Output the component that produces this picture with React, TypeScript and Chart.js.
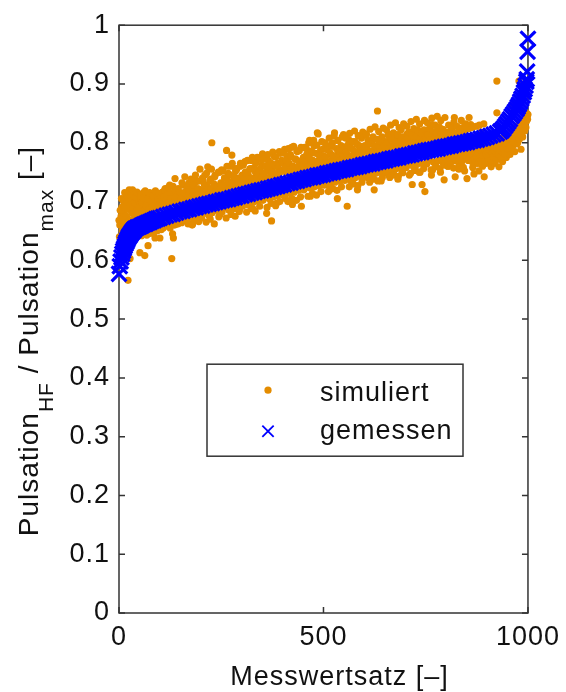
import React, { useEffect, useRef } from 'react';
import { Chart, registerables } from 'chart.js';

Chart.register(...registerables);

// ---- axis ranges / labels ----
const X_MIN = 0;
const X_MAX = 1000;
const X_STEP = 500;
const Y_MIN = 0;
const Y_MAX = 1;
const Y_STEP = 0.1;

const seriesLabels = ['simuliert', 'gemessen'];
const xAxisTitle = 'Messwertsatz [–]';
// [text, isSubscript]
const yAxisTitleParts: [string, boolean][] = [
  ['Pulsation', false],
  ['HF', true],
  [' / Pulsation', false],
  ['max', true],
  [' [–]', false],
];

// ---- measured series (sorted) ----
const measuredIdx = [
  0, 2, 4, 6, 8, 10, 12, 14, 16, 18, 20, 22, 24, 26, 28, 30, 32, 34, 36, 38, 40,
  45, 50, 55, 60, 65, 70, 75, 80, 85, 90, 95, 100,
  108, 116, 124, 132, 140, 148, 156, 164, 172, 180,
  188, 196, 204, 212, 220, 228, 236, 244, 252, 260,
  268, 276, 284, 292, 300, 308, 316, 324, 332, 340,
  348, 356, 364, 372, 380, 388, 396, 404, 412, 420,
  428, 436, 444, 452, 460, 468, 476, 484, 492, 500,
  508, 516, 524, 532, 540, 548, 556, 564, 572, 580,
  588, 596, 604, 612, 620, 628, 636, 644, 652, 660,
  668, 676, 684, 692, 700, 708, 716, 724, 732, 740,
  748, 756, 764, 772, 780, 788, 796, 804, 812, 820,
  828, 836, 844, 852, 860, 868, 876, 884, 892, 900,
  908, 916, 924, 932,
  936, 940, 944, 948, 952, 956, 960, 964, 968, 972, 975, 978, 981, 984, 987, 990, 992, 994, 996, 997, 998, 999, 1000,
];
const measuredVal = [
  0.577, 0.590, 0.598, 0.605, 0.611, 0.616, 0.620, 0.624, 0.628, 0.631, 0.634, 0.637, 0.640, 0.642, 0.644, 0.646, 0.648, 0.650, 0.651, 0.653, 0.654,
  0.656, 0.657, 0.659, 0.661, 0.662, 0.664, 0.665, 0.667, 0.668, 0.670, 0.671, 0.672,
  0.674, 0.676, 0.678, 0.679, 0.681, 0.683, 0.684, 0.686, 0.687, 0.689,
  0.690, 0.692, 0.693, 0.695, 0.696, 0.697, 0.699, 0.700, 0.702, 0.703,
  0.704, 0.706, 0.707, 0.709, 0.710, 0.712, 0.713, 0.715, 0.716, 0.718,
  0.719, 0.720, 0.722, 0.723, 0.725, 0.726, 0.728, 0.729, 0.731, 0.732,
  0.734, 0.735, 0.737, 0.738, 0.740, 0.741, 0.742, 0.744, 0.745, 0.746,
  0.748, 0.749, 0.750, 0.752, 0.753, 0.754, 0.755, 0.757, 0.758, 0.759,
  0.760, 0.762, 0.763, 0.764, 0.765, 0.767, 0.768, 0.769, 0.770, 0.772,
  0.773, 0.774, 0.775, 0.777, 0.778, 0.779, 0.780, 0.782, 0.783, 0.784,
  0.786, 0.787, 0.788, 0.789, 0.790, 0.792, 0.793, 0.794, 0.795, 0.797,
  0.798, 0.799, 0.800, 0.801, 0.803, 0.804, 0.805, 0.807, 0.808, 0.810,
  0.812, 0.814, 0.816, 0.819,
  0.821, 0.824, 0.828, 0.832, 0.836, 0.840, 0.845, 0.849, 0.853, 0.857, 0.861, 0.865, 0.870, 0.875, 0.880, 0.886, 0.891, 0.897, 0.904, 0.908, 0.921, 0.955, 0.977,
];

// ---- simulated series (two lines per index block of 50) ----
const simIdx = [
  1, 2, 4, 5, 7, 8, 10, 11, 13, 15, 16, 18, 20, 22, 23, 25, 27, 29, 31, 33, 35, 37, 40, 42, 45, 48,
  0, 3, 6, 9, 12, 14, 17, 19, 21, 24, 26, 28, 30, 32, 34, 36, 38, 39, 41, 43, 44, 46, 47, 49,
  51, 52, 54, 56, 58, 60, 61, 63, 65, 67, 69, 71, 72, 74, 76, 78, 80, 82, 83, 85, 88, 90, 92, 94, 96, 98,
  50, 53, 55, 57, 59, 62, 64, 66, 68, 70, 73, 75, 77, 79, 81, 84, 86, 87, 89, 91, 93, 95, 97, 99,
  100, 102, 104, 107, 109, 111, 113, 115, 118, 120, 122, 124, 127, 129, 131, 133, 135, 137, 140, 142, 144, 147,
  101, 103, 105, 106, 108, 110, 112, 114, 116, 117, 119, 121, 123, 125, 126, 128, 130, 132, 134, 136, 138, 139, 141, 145,
  150, 152, 155, 157, 160, 162, 164, 166, 168, 171, 173, 175, 178, 180, 183, 185, 188, 190, 192, 194, 196, 198,
  151, 153, 154, 156, 158, 159, 161, 163, 165, 167, 169, 170, 172, 174, 176, 177, 179, 181, 182, 184, 186, 187, 189, 191, 193, 195, 197, 199,
  201, 203, 205, 208, 210, 212, 215, 217, 219, 221, 224, 227, 229, 231, 234, 236, 238, 241, 243, 245, 247, 249,
  200, 202, 204, 206, 207, 209, 211, 213, 214, 216, 218, 220, 222, 223, 225, 226, 228, 230, 232, 233, 235, 237, 239, 240, 242, 244, 246, 248,
  251, 253, 256, 258, 260, 263, 265, 267, 270, 271, 273, 276, 278, 280, 283, 285, 288, 290, 292, 295, 297, 299,
  250, 252, 254, 255, 257, 259, 261, 262, 264, 266, 268, 269, 272, 274, 275, 277, 279, 281, 282, 284, 286, 287, 289, 291, 293, 294, 296, 298,
  301, 303, 306, 308, 310, 313, 315, 318, 320, 322, 324, 327, 329, 331, 334, 336, 338, 341, 343, 345, 347, 349,
  300, 302, 304, 305, 307, 309, 311, 312, 314, 316, 317, 319, 321, 323, 325, 326, 328, 330, 332, 333, 335, 337, 339, 340, 342, 344, 346, 348,
  351, 353, 356, 358, 361, 363, 365, 368, 370, 373, 375, 377, 380, 382, 385, 387, 390, 392, 394, 396, 398, 399,
  350, 352, 354, 355, 357, 359, 360, 362, 364, 366, 367, 369, 371, 372, 374, 376, 378, 379, 381, 383, 384, 386, 388, 389, 391, 393, 395, 397,
  401, 403, 405, 407, 410, 412, 415, 417, 419, 422, 424, 426, 429, 431, 433, 436, 438, 441, 443, 446, 447, 449,
  400, 402, 404, 406, 408, 409, 411, 413, 414, 416, 418, 420, 421, 423, 425, 427, 428, 430, 432, 434, 435, 437, 439, 440, 442, 444, 445, 448,
  451, 453, 456, 458, 460, 463, 466, 468, 470, 472, 475, 477, 480, 482, 485, 487, 489, 491, 493, 495, 497, 499,
  450, 452, 454, 455, 457, 459, 461, 462, 464, 465, 467, 469, 471, 473, 474, 476, 478, 479, 481, 483, 484, 486, 488, 490, 492, 494, 496, 498,
  501, 503, 506, 508, 510, 513, 515, 517, 520, 522, 525, 527, 529, 531, 534, 536, 538, 541, 543, 545, 547, 549,
  500, 502, 504, 505, 507, 509, 511, 512, 514, 516, 518, 519, 521, 523, 524, 526, 528, 530, 532, 533, 535, 537, 539, 540, 542, 544, 546, 548,
  551, 553, 555, 558, 560, 562, 565, 567, 570, 572, 574, 577, 579, 581, 583, 586, 588, 590, 593, 595, 597, 599,
  550, 552, 554, 556, 557, 559, 561, 563, 564, 566, 568, 569, 571, 573, 575, 576, 578, 580, 582, 584, 585, 587, 589, 591, 592, 594, 596, 598,
  601, 603, 605, 608, 610, 612, 615, 617, 620, 622, 624, 627, 629, 632, 634, 636, 639, 641, 643, 645, 647, 649,
  600, 602, 604, 606, 607, 609, 611, 613, 614, 616, 618, 619, 621, 623, 625, 626, 628, 630, 631, 633, 635, 637, 638, 640, 642, 644, 646, 648,
  651, 653, 656, 658, 660, 663, 665, 667, 670, 673, 675, 677, 680, 682, 684, 687, 689, 690, 692, 695, 697, 699,
  650, 652, 654, 655, 657, 659, 661, 662, 664, 666, 668, 669, 671, 672, 674, 676, 678, 679, 681, 683, 685, 686, 688, 691, 693, 694, 696, 698,
  701, 703, 705, 708, 710, 712, 715, 717, 719, 722, 724, 726, 729, 731, 733, 736, 738, 741, 743, 744, 746, 748,
  700, 702, 704, 706, 707, 709, 711, 713, 714, 716, 718, 720, 721, 723, 725, 727, 728, 730, 732, 734, 735, 737, 739, 740, 742, 745, 747, 749,
  751, 753, 755, 758, 760, 762, 764, 766, 767, 770, 772, 775, 777, 779, 782, 784, 786, 789, 791, 793, 795, 798,
  750, 752, 754, 756, 757, 759, 761, 763, 765, 768, 769, 771, 773, 774, 776, 778, 780, 781, 783, 785, 787, 788, 790, 792, 794, 796, 797, 799,
  801, 803, 805, 807, 810, 812, 815, 817, 820, 822, 824, 827, 829, 831, 834, 836, 838, 841, 843, 845, 847, 849,
  800, 802, 804, 806, 808, 809, 811, 813, 814, 816, 818, 819, 821, 823, 825, 826, 828, 830, 832, 833, 835, 837, 839, 840, 842, 844, 846, 848,
  851, 853, 856, 858, 860, 862, 865, 868, 870, 872, 875, 877, 880, 882, 884, 887, 889, 891, 893, 895, 897, 899,
  850, 852, 854, 855, 857, 859, 861, 863, 864, 866, 867, 869, 871, 873, 874, 876, 878, 879, 881, 883, 885, 886, 888, 890, 892, 894, 896, 898,
  901, 903, 905, 908, 910, 912, 915, 917, 919, 922, 924, 924, 927, 929, 931, 934, 936, 938, 941, 943, 945, 947, 949,
  900, 902, 904, 906, 907, 909, 911, 913, 914, 916, 918, 920, 921, 923, 925, 926, 928, 930, 932, 933, 935, 937, 939, 940, 942, 944, 946, 948,
  951, 953, 954, 956, 959, 961, 963, 966, 968, 971, 973, 975, 978, 980, 983, 985, 987, 990, 992, 994, 995, 997, 999,
  950, 952, 955, 957, 958, 960, 962, 964, 965, 967, 969, 970, 972, 974, 976, 977, 979, 981, 982, 984, 986, 988, 989, 991, 993, 996, 998, 1000,
];
const simVal = [
  0.640, 0.660, 0.625, 0.675, 0.690, 0.650, 0.658, 0.700, 0.680, 0.665, 0.695, 0.710, 0.672, 0.566, 0.690, 0.720, 0.603, 0.685, 0.700, 0.720, 0.668, 0.705, 0.690, 0.678, 0.700, 0.688,
  0.668, 0.685, 0.705, 0.672, 0.690, 0.715, 0.676, 0.700, 0.688, 0.705, 0.668, 0.695, 0.710, 0.680, 0.690, 0.712, 0.698, 0.675, 0.708, 0.684, 0.716, 0.695, 0.674, 0.712,
  0.613, 0.695, 0.705, 0.680, 0.690, 0.715, 0.672, 0.608, 0.700, 0.685, 0.693, 0.625, 0.708, 0.678, 0.690, 0.703, 0.682, 0.697, 0.712, 0.688, 0.638, 0.700, 0.683, 0.708, 0.693, 0.676,
  0.690, 0.712, 0.642, 0.698, 0.706, 0.685, 0.718, 0.693, 0.643, 0.704, 0.688, 0.715, 0.646, 0.700, 0.692, 0.710, 0.648, 0.697, 0.718, 0.689, 0.650, 0.706, 0.714, 0.695,
  0.638, 0.705, 0.690, 0.716, 0.660, 0.700, 0.722, 0.695, 0.684, 0.710, 0.668, 0.728, 0.700, 0.603, 0.645, 0.638, 0.712, 0.739, 0.700, 0.720, 0.662, 0.707,
  0.700, 0.652, 0.715, 0.696, 0.655, 0.708, 0.720, 0.658, 0.702, 0.712, 0.660, 0.724, 0.698, 0.655, 0.715, 0.705, 0.662, 0.726, 0.700, 0.660, 0.718, 0.708, 0.662, 0.722,
  0.715, 0.695, 0.670, 0.728, 0.705, 0.712, 0.668, 0.720, 0.700, 0.732, 0.676, 0.710, 0.725, 0.662, 0.700, 0.718, 0.735, 0.734, 0.672, 0.715, 0.705, 0.755,
  0.705, 0.664, 0.732, 0.700, 0.676, 0.715, 0.742, 0.668, 0.698, 0.725, 0.662, 0.710, 0.720, 0.673, 0.738, 0.700, 0.660, 0.716, 0.728, 0.669, 0.704, 0.745, 0.672, 0.712, 0.722, 0.666, 0.735, 0.706,
  0.720, 0.680, 0.735, 0.710, 0.745, 0.690, 0.728, 0.759, 0.705, 0.676, 0.738, 0.800, 0.715, 0.690, 0.742, 0.725, 0.685, 0.725, 0.750, 0.712, 0.678, 0.732,
  0.712, 0.672, 0.740, 0.718, 0.684, 0.728, 0.706, 0.665, 0.748, 0.720, 0.678, 0.712, 0.735, 0.670, 0.722, 0.755, 0.681, 0.710, 0.730, 0.662, 0.745, 0.718, 0.686, 0.726, 0.712, 0.674, 0.750, 0.722,
  0.754, 0.718, 0.690, 0.740, 0.725, 0.787, 0.700, 0.748, 0.730, 0.692, 0.760, 0.779, 0.715, 0.735, 0.688, 0.752, 0.755, 0.722, 0.740, 0.687, 0.765, 0.730,
  0.722, 0.682, 0.752, 0.728, 0.690, 0.740, 0.718, 0.672, 0.760, 0.735, 0.686, 0.722, 0.745, 0.678, 0.730, 0.765, 0.690, 0.720, 0.742, 0.675, 0.756, 0.728, 0.692, 0.738, 0.722, 0.683, 0.760, 0.732,
  0.745, 0.705, 0.730, 0.768, 0.712, 0.750, 0.695, 0.740, 0.755, 0.725, 0.770, 0.688, 0.735, 0.758, 0.710, 0.745, 0.775, 0.702, 0.738, 0.755, 0.728, 0.762,
  0.732, 0.692, 0.762, 0.738, 0.700, 0.750, 0.728, 0.682, 0.770, 0.745, 0.695, 0.732, 0.756, 0.688, 0.740, 0.775, 0.699, 0.730, 0.752, 0.684, 0.766, 0.738, 0.701, 0.748, 0.732, 0.692, 0.772, 0.742,
  0.781, 0.740, 0.760, 0.722, 0.680, 0.752, 0.770, 0.735, 0.712, 0.667, 0.758, 0.745, 0.776, 0.728, 0.697, 0.765, 0.748, 0.785, 0.730, 0.715, 0.770, 0.752,
  0.742, 0.702, 0.772, 0.748, 0.708, 0.760, 0.738, 0.690, 0.780, 0.755, 0.705, 0.742, 0.766, 0.697, 0.750, 0.784, 0.708, 0.740, 0.762, 0.693, 0.776, 0.748, 0.710, 0.758, 0.742, 0.700, 0.782, 0.752,
  0.765, 0.728, 0.789, 0.705, 0.758, 0.775, 0.742, 0.715, 0.780, 0.792, 0.695, 0.760, 0.748, 0.772, 0.725, 0.785, 0.755, 0.787, 0.738, 0.692, 0.770, 0.750,
  0.752, 0.711, 0.782, 0.758, 0.718, 0.770, 0.748, 0.700, 0.790, 0.765, 0.714, 0.752, 0.776, 0.705, 0.760, 0.794, 0.716, 0.750, 0.772, 0.702, 0.786, 0.758, 0.719, 0.768, 0.752, 0.708, 0.792, 0.762,
  0.775, 0.722, 0.760, 0.790, 0.740, 0.768, 0.804, 0.709, 0.782, 0.755, 0.730, 0.795, 0.765, 0.748, 0.817, 0.815, 0.770, 0.728, 0.788, 0.760, 0.742, 0.778,
  0.762, 0.720, 0.792, 0.768, 0.727, 0.780, 0.758, 0.709, 0.800, 0.775, 0.723, 0.762, 0.786, 0.714, 0.770, 0.804, 0.725, 0.760, 0.782, 0.711, 0.796, 0.768, 0.727, 0.778, 0.762, 0.717, 0.802, 0.772,
  0.790, 0.735, 0.768, 0.795, 0.752, 0.728, 0.720, 0.780, 0.762, 0.800, 0.740, 0.817, 0.775, 0.758, 0.705, 0.785, 0.768, 0.735, 0.795, 0.772, 0.750, 0.814,
  0.770, 0.728, 0.800, 0.776, 0.735, 0.788, 0.766, 0.717, 0.808, 0.783, 0.731, 0.770, 0.794, 0.722, 0.778, 0.812, 0.733, 0.768, 0.790, 0.719, 0.804, 0.776, 0.735, 0.786, 0.770, 0.725, 0.810, 0.780,
  0.765, 0.792, 0.742, 0.692, 0.778, 0.805, 0.755, 0.735, 0.790, 0.770, 0.748, 0.802, 0.782, 0.760, 0.720, 0.795, 0.745, 0.775, 0.808, 0.738, 0.785, 0.768,
  0.778, 0.736, 0.808, 0.784, 0.743, 0.796, 0.774, 0.725, 0.816, 0.791, 0.739, 0.778, 0.802, 0.730, 0.786, 0.820, 0.741, 0.776, 0.798, 0.727, 0.812, 0.784, 0.743, 0.794, 0.778, 0.733, 0.818, 0.788,
  0.795, 0.750, 0.814, 0.775, 0.740, 0.800, 0.785, 0.760, 0.745, 0.805, 0.720, 0.790, 0.770, 0.854, 0.752, 0.798, 0.780, 0.735, 0.810, 0.765, 0.792, 0.748,
  0.786, 0.743, 0.815, 0.792, 0.750, 0.804, 0.782, 0.733, 0.823, 0.798, 0.746, 0.786, 0.810, 0.738, 0.794, 0.827, 0.748, 0.784, 0.806, 0.735, 0.819, 0.792, 0.750, 0.802, 0.786, 0.741, 0.825, 0.796,
  0.802, 0.760, 0.788, 0.815, 0.745, 0.795, 0.770, 0.808, 0.755, 0.745, 0.798, 0.782, 0.812, 0.738, 0.790, 0.805, 0.765, 0.822, 0.750, 0.795, 0.810, 0.775,
  0.794, 0.751, 0.822, 0.800, 0.758, 0.812, 0.790, 0.741, 0.830, 0.806, 0.754, 0.794, 0.817, 0.746, 0.802, 0.834, 0.756, 0.792, 0.814, 0.743, 0.826, 0.800, 0.758, 0.810, 0.794, 0.749, 0.832, 0.804,
  0.800, 0.760, 0.815, 0.785, 0.745, 0.808, 0.770, 0.729, 0.795, 0.818, 0.755, 0.802, 0.780, 0.765, 0.812, 0.750, 0.798, 0.729, 0.805, 0.790, 0.822, 0.717,
  0.802, 0.758, 0.828, 0.808, 0.765, 0.818, 0.798, 0.748, 0.836, 0.813, 0.761, 0.802, 0.824, 0.753, 0.810, 0.840, 0.763, 0.800, 0.821, 0.750, 0.832, 0.808, 0.765, 0.817, 0.802, 0.756, 0.838, 0.812,
  0.810, 0.765, 0.795, 0.818, 0.775, 0.805, 0.745, 0.831, 0.754, 0.812, 0.785, 0.760, 0.800, 0.822, 0.770, 0.808, 0.750, 0.795, 0.815, 0.765, 0.737, 0.802,
  0.808, 0.764, 0.834, 0.814, 0.771, 0.824, 0.804, 0.754, 0.842, 0.819, 0.767, 0.808, 0.830, 0.759, 0.816, 0.845, 0.769, 0.806, 0.827, 0.756, 0.838, 0.814, 0.771, 0.823, 0.808, 0.762, 0.843, 0.818,
  0.775, 0.815, 0.760, 0.764, 0.808, 0.790, 0.825, 0.770, 0.843, 0.742, 0.800, 0.782, 0.818, 0.755, 0.795, 0.812, 0.768, 0.805, 0.780, 0.752, 0.822, 0.790,
  0.772, 0.815, 0.760, 0.830, 0.778, 0.818, 0.766, 0.826, 0.781, 0.812, 0.757, 0.835, 0.773, 0.816, 0.769, 0.828, 0.780, 0.814, 0.762, 0.822, 0.776, 0.838, 0.770, 0.826, 0.758, 0.816, 0.779, 0.832,
  0.739, 0.785, 0.843, 0.770, 0.831, 0.795, 0.758, 0.747, 0.810, 0.780, 0.765, 0.800, 0.752, 0.788, 0.818, 0.772, 0.760, 0.795, 0.742, 0.778, 0.805, 0.765,
  0.778, 0.785, 0.770, 0.824, 0.782, 0.775, 0.788, 0.768, 0.826, 0.780, 0.786, 0.772, 0.784, 0.828, 0.776, 0.788, 0.765, 0.782, 0.830, 0.774, 0.787, 0.770, 0.785, 0.778, 0.832, 0.768, 0.786, 0.780,
  0.790, 0.770, 0.805, 0.782, 0.759, 0.795, 0.812, 0.775, 0.765, 0.800, 0.905, 0.851, 0.785, 0.759, 0.772, 0.808, 0.790, 0.768, 0.795, 0.780, 0.815, 0.775, 0.781,
  0.785, 0.792, 0.775, 0.788, 0.795, 0.770, 0.790, 0.782, 0.796, 0.776, 0.792, 0.785, 0.798, 0.772, 0.790, 0.800, 0.780, 0.794, 0.802, 0.776, 0.795, 0.785, 0.805, 0.790, 0.798, 0.780, 0.806, 0.795,
  0.790, 0.805, 0.797, 0.780, 0.863, 0.812, 0.795, 0.820, 0.785, 0.804, 0.825, 0.800, 0.905, 0.815, 0.789, 0.830, 0.810, 0.835, 0.820, 0.845, 0.826, 0.850, 0.840,
  0.800, 0.812, 0.795, 0.818, 0.806, 0.790, 0.815, 0.824, 0.802, 0.818, 0.810, 0.826, 0.798, 0.822, 0.815, 0.830, 0.806, 0.825, 0.834, 0.812, 0.828, 0.838, 0.820, 0.832, 0.842, 0.836, 0.845, 0.848,
];

// ---- styling ----
const FONT_FAMILY = "'Liberation Sans', Arial, Helvetica, sans-serif";
const FONT_SIZE = 27;
const TITLE_SIZE = 28;
const SUB_SIZE = 21;
const TEXT_COLOR = '#111111';
const AXIS_COLOR = '#333333';
const ORANGE = 'rgb(228,140,0)';
const BLUE = 'rgb(0,0,255)';
const SIM_RADIUS = 3.6;
const MEAS_RADIUS = 10.5;
const MEAS_WIDTH = 3.2;
const SPACING = '1px';

function drawX(ctx: CanvasRenderingContext2D, x: number, y: number, r: number) {
  const h = r * Math.SQRT1_2;
  ctx.beginPath();
  ctx.moveTo(x - h, y - h);
  ctx.lineTo(x + h, y + h);
  ctx.moveTo(x + h, y - h);
  ctx.lineTo(x - h, y + h);
  ctx.stroke();
}

const framePlugin = {
  id: 'matlabFrame',
  beforeDraw(chart: any) {
    (chart.ctx as any).letterSpacing = SPACING;
  },
  beforeDatasetsDraw(chart: any) {
    const { ctx, chartArea: a, scales } = chart;
    const xs = scales.x;
    const ys = scales.y;
    ctx.save();
    ctx.strokeStyle = AXIS_COLOR;
    ctx.lineWidth = 1.5;
    ctx.strokeRect(a.left, a.top, a.right - a.left, a.bottom - a.top);
    ctx.beginPath();
    const tl = 6;
    xs.ticks.forEach((t: any) => {
      const px = xs.getPixelForValue(t.value);
      ctx.moveTo(px, a.bottom);
      ctx.lineTo(px, a.bottom - tl);
      ctx.moveTo(px, a.top);
      ctx.lineTo(px, a.top + tl);
    });
    ys.ticks.forEach((t: any) => {
      const py = ys.getPixelForValue(t.value);
      ctx.moveTo(a.left, py);
      ctx.lineTo(a.left + tl, py);
      ctx.moveTo(a.right, py);
      ctx.lineTo(a.right - tl, py);
    });
    ctx.stroke();
    ctx.restore();
  },
  afterDatasetsDraw(chart: any) {
    const { ctx, chartArea: a } = chart;
    const ds = chart.data.datasets;
    const bx = a.left + 88;
    const by = a.top + 339;
    const bw = 256;
    const bh = 92;
    ctx.save();
    (ctx as any).letterSpacing = SPACING;
    ctx.fillStyle = '#ffffff';
    ctx.fillRect(bx, by, bw, bh);
    ctx.strokeStyle = AXIS_COLOR;
    ctx.lineWidth = 1.5;
    ctx.strokeRect(bx, by, bw, bh);
    ctx.fillStyle = ds[0].backgroundColor;
    ctx.beginPath();
    ctx.arc(bx + 61, by + 26, SIM_RADIUS, 0, Math.PI * 2);
    ctx.fill();
    ctx.strokeStyle = ds[1].borderColor;
    ctx.lineWidth = 1.8;
    drawX(ctx, bx + 61, by + 67, 8);
    ctx.fillStyle = TEXT_COLOR;
    ctx.font = `${FONT_SIZE}px ${FONT_FAMILY}`;
    ctx.textAlign = 'left';
    ctx.textBaseline = 'alphabetic';
    ctx.fillText(ds[0].label, bx + 113, by + 37);
    ctx.fillText(ds[1].label, bx + 113, by + 75);
    ctx.restore();
  },
  afterDraw(chart: any) {
    const { ctx, chartArea: a } = chart;
    ctx.save();
    (ctx as any).letterSpacing = SPACING;
    ctx.fillStyle = TEXT_COLOR;
    ctx.textBaseline = 'alphabetic';
    ctx.font = `${FONT_SIZE}px ${FONT_FAMILY}`;
    ctx.textAlign = 'center';
    ctx.fillText(xAxisTitle, (a.left + a.right) / 2 + 16, a.bottom + 72);
    const widths = yAxisTitleParts.map(([t, sub]) => {
      ctx.font = `${sub ? SUB_SIZE : TITLE_SIZE}px ${FONT_FAMILY}`;
      return ctx.measureText(t).width;
    });
    const total = widths.reduce((s, w) => s + w, 0);
    const cy = (a.top + a.bottom) / 2 + 22;
    ctx.translate(38, cy);
    ctx.rotate(-Math.PI / 2);
    ctx.textAlign = 'left';
    let pos = -total / 2;
    yAxisTitleParts.forEach(([t, sub], i) => {
      ctx.font = `${sub ? SUB_SIZE : TITLE_SIZE}px ${FONT_FAMILY}`;
      ctx.fillText(t, pos, sub ? 15 : 0);
      pos += widths[i];
    });
    ctx.restore();
  },
};

export default function App() {
  const ref = useRef<HTMLCanvasElement | null>(null);
  useEffect(() => {
    const canvas = ref.current;
    if (!canvas) return;
    const simPoints = simIdx.map((x, i) => ({ x, y: simVal[i] }));
    const measPoints = measuredIdx.map((x, i) => ({ x, y: measuredVal[i] }));
    const tickFont = { family: FONT_FAMILY, size: FONT_SIZE };
    const chart = new Chart(canvas, {
      type: 'scatter',
      data: {
        datasets: [
          {
            label: seriesLabels[0],
            data: simPoints,
            pointStyle: 'circle',
            pointRadius: SIM_RADIUS,
            pointHoverRadius: SIM_RADIUS,
            backgroundColor: ORANGE,
            borderColor: ORANGE,
            borderWidth: 0,
            order: 2,
            clip: false,
          } as any,
          {
            label: seriesLabels[1],
            data: measPoints,
            pointStyle: 'crossRot',
            pointRadius: MEAS_RADIUS,
            pointHoverRadius: MEAS_RADIUS,
            backgroundColor: BLUE,
            borderColor: BLUE,
            borderWidth: MEAS_WIDTH,
            order: 1,
            clip: false,
          } as any,
        ],
      },
      options: {
        responsive: false,
        animation: false,
        devicePixelRatio: 1,
        events: [],
        layout: {
          autoPadding: false,
          padding: { top: 16, right: 38, left: 0, bottom: 0 },
        } as any,
        plugins: {
          legend: { display: false },
          tooltip: { enabled: false },
          title: { display: false },
        },
        scales: {
          x: {
            type: 'linear',
            min: X_MIN,
            max: X_MAX,
            grid: { display: false, drawTicks: false },
            border: { display: false },
            ticks: {
              stepSize: X_STEP,
              font: tickFont,
              color: TEXT_COLOR,
              padding: 8,
              maxRotation: 0,
              autoSkip: false,
              callback: (v: any) => String(v),
            },
            afterFit: (s: any) => {
              s.height = 79;
            },
          },
          y: {
            type: 'linear',
            min: Y_MIN,
            max: Y_MAX,
            grid: { display: false, drawTicks: false },
            border: { display: false },
            ticks: {
              stepSize: Y_STEP,
              font: tickFont,
              color: TEXT_COLOR,
              padding: 9,
              autoSkip: false,
              callback: (v: any) => String(Math.round(Number(v) * 10) / 10),
            },
            afterFit: (s: any) => {
              s.width = 119;
            },
          },
        },
      },
      plugins: [framePlugin],
    });
    return () => chart.destroy();
  }, []);
  return (
    <div style={{ position: 'absolute', left: 0, top: 0, width: 566, height: 692, background: '#ffffff' }}>
      <canvas ref={ref} width={566} height={692} style={{ display: 'block', width: 566, height: 692 }} />
    </div>
  );
}
